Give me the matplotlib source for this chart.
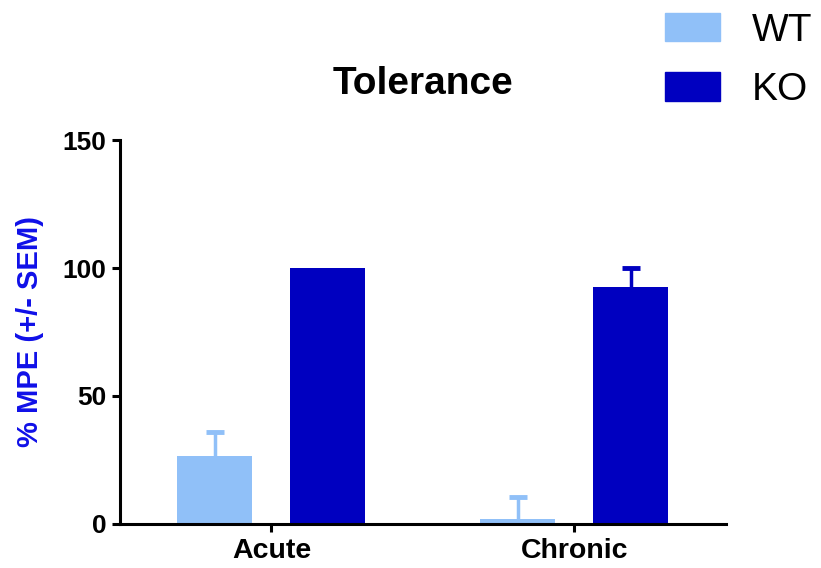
import numpy as np
import matplotlib.pyplot as plt
from matplotlib.patches import Patch

plt.rcParams['font.family'] = ['Liberation Sans', 'DejaVu Sans']

# data
groups = ['Acute', 'Chronic']
series = ['WT', 'KO']
wt_mean = [26.5, 2.0]
wt_sem = [9.5, 8.5]
ko_mean = [100.0, 92.5]
ko_sem = [0.0, 7.5]
y_ticks = [0, 50, 100, 150]

wt_color = '#90c0f8'
ko_color = '#0000c0'

fig = plt.figure(figsize=(8.21, 5.68), dpi=100)
ax = fig.add_axes([0.1462, 0.0775, 0.7378, 0.676])

x = np.arange(len(groups))
width = 0.2475
off = 0.1865
cap = 0.03

for xs, means, sems, col in [(x - off, wt_mean, wt_sem, wt_color),
                             (x + off, ko_mean, ko_sem, ko_color)]:
    means = np.array(means)
    sems = np.array(sems)
    ax.bar(xs, means, width=width, color=col, zorder=2)
    # upper-only SEM whiskers with caps
    show = sems > 0
    ax.vlines(xs[show], means[show], means[show] + sems[show], color=col,
              linewidth=2.5, zorder=3)
    ax.hlines(means[show] + sems[show], xs[show] - cap, xs[show] + cap,
              color=col, linewidth=3.5, zorder=3)

ax.set_xlim(-0.5, 1.5)
ax.set_ylim(0, 150)
ax.set_yticks(y_ticks)
ax.set_xticks(x)
ax.set_xticklabels(groups)

for s in ['top', 'right']:
    ax.spines[s].set_visible(False)
for s in ['left', 'bottom']:
    ax.spines[s].set_linewidth(2.2)
ax.tick_params(width=2.2, length=6, pad=4)
ax.tick_params(axis='y', labelsize=19)
ax.tick_params(axis='x', labelsize=20.5)
for lbl in ax.get_xticklabels() + ax.get_yticklabels():
    lbl.set_fontweight('bold')

ax.set_ylabel('% MPE (+/- SEM)', color='#1010e8', fontsize=21,
              fontweight='bold', labelpad=13)
ax.set_title('Tolerance', fontsize=28, fontweight='bold', pad=33)

handles = [Patch(color=wt_color), Patch(color=ko_color)]
fig.legend(handles, series, loc='upper left', bbox_to_anchor=(0.7916, 1.005),
           frameon=False, fontsize=28, handlelength=1.41, handleheight=0.75,
           labelspacing=0.6, handletextpad=0.8, borderaxespad=0.0)

fig.savefig('out.png', dpi=100)
